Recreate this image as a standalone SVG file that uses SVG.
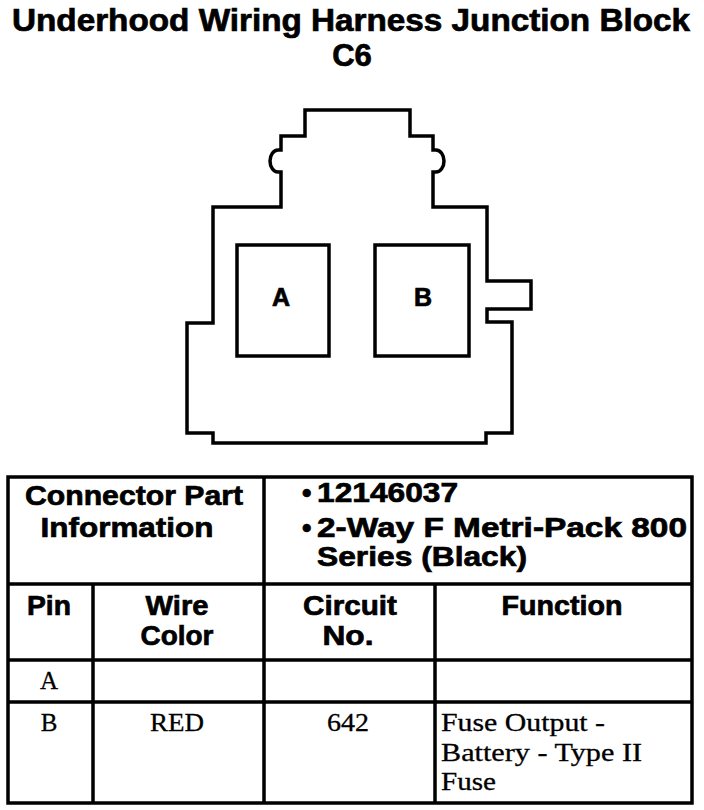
<svg xmlns="http://www.w3.org/2000/svg" width="704" height="810" viewBox="0 0 704 810">
<style>
.t{font-family:"Liberation Sans",Arial,sans-serif;font-weight:bold;fill:#000;stroke:#000;stroke-width:0.7}
.s{font-family:"Liberation Serif","Times New Roman",serif;fill:#000;stroke:#000;stroke-width:0.3}
.ln{stroke:#000;stroke-width:3.5;fill:none}
</style>
<rect width="704" height="810" fill="#fff"/>
<g id="title">
<text class="t" x="351" y="31" font-size="31" text-anchor="middle" textLength="678" lengthAdjust="spacingAndGlyphs">Underhood Wiring Harness Junction Block</text>
<text class="t" x="352" y="66" font-size="31" text-anchor="middle">C6</text>
</g>
<g id="connector">
<path class="ln" d="M305,110 H410 V136 H433 V150 H436 A8 11 0 0 1 436 172 H433 V207 H487 V281 H531 V309 H487 V322 H512 V433 H486 V443 H213 V433 H187 V323 H213 V207 H281 V172 H278 A8 11 0 0 1 278 150 H281 V136 H305 Z"/>
<g id="cavityA"><rect class="ln" x="237" y="245" width="92" height="111"/><text class="t" x="281" y="306" font-size="25" text-anchor="middle">A</text></g>
<g id="cavityB"><rect class="ln" x="375" y="245" width="94" height="111"/><text class="t" x="423" y="306" font-size="25" text-anchor="middle">B</text></g>
</g>
<g id="table">
<rect class="ln" x="8" y="477" width="684" height="326"/>
<path class="ln" d="M8,584 H692 M8,660 H692 M8,702 H692 M264,477 V803 M93,584 V803 M435,584 V803"/>
<g id="hdr">
<text class="t" x="134" y="505" font-size="28" text-anchor="middle" textLength="218" lengthAdjust="spacingAndGlyphs">Connector Part</text>
<text class="t" x="127" y="537" font-size="28" text-anchor="middle" textLength="173" lengthAdjust="spacingAndGlyphs">Information</text>
<text class="t" x="302" y="502" font-size="27">•</text>
<text class="t" x="317" y="502" font-size="28" textLength="141" lengthAdjust="spacingAndGlyphs">12146037</text>
<text class="t" x="302" y="537" font-size="27">•</text>
<text class="t" x="317" y="537" font-size="28" textLength="370" lengthAdjust="spacingAndGlyphs">2-Way F Metri-Pack 800</text>
<text class="t" x="317" y="566" font-size="28" textLength="210" lengthAdjust="spacingAndGlyphs">Series (Black)</text>
<text class="t" x="49" y="615" font-size="28" text-anchor="middle" textLength="44" lengthAdjust="spacingAndGlyphs">Pin</text>
<text class="t" x="177" y="615" font-size="28" text-anchor="middle" textLength="63" lengthAdjust="spacingAndGlyphs">Wire</text>
<text class="t" x="177" y="645" font-size="28" text-anchor="middle" textLength="73" lengthAdjust="spacingAndGlyphs">Color</text>
<text class="t" x="350" y="615" font-size="28" text-anchor="middle" textLength="94" lengthAdjust="spacingAndGlyphs">Circuit</text>
<text class="t" x="348" y="645" font-size="28" text-anchor="middle" textLength="51" lengthAdjust="spacingAndGlyphs">No.</text>
<text class="t" x="562" y="615" font-size="28" text-anchor="middle" textLength="121" lengthAdjust="spacingAndGlyphs">Function</text>
</g>
<g id="rowA"><text class="s" x="49" y="689" font-size="25" text-anchor="middle">A</text></g>
<g id="rowB">
<text class="s" x="49" y="731" font-size="25" text-anchor="middle">B</text>
<text class="s" x="177" y="731" font-size="25" text-anchor="middle" textLength="54" lengthAdjust="spacingAndGlyphs">RED</text>
<text class="s" x="348" y="731" font-size="25" text-anchor="middle" textLength="42" lengthAdjust="spacingAndGlyphs">642</text>
<text class="s" x="441" y="731" font-size="25" textLength="164" lengthAdjust="spacingAndGlyphs">Fuse Output -</text>
<text class="s" x="441" y="761" font-size="25" textLength="201" lengthAdjust="spacingAndGlyphs">Battery - Type II</text>
<text class="s" x="441" y="790" font-size="25" textLength="55" lengthAdjust="spacingAndGlyphs">Fuse</text>
</g>
</g>
</svg>
